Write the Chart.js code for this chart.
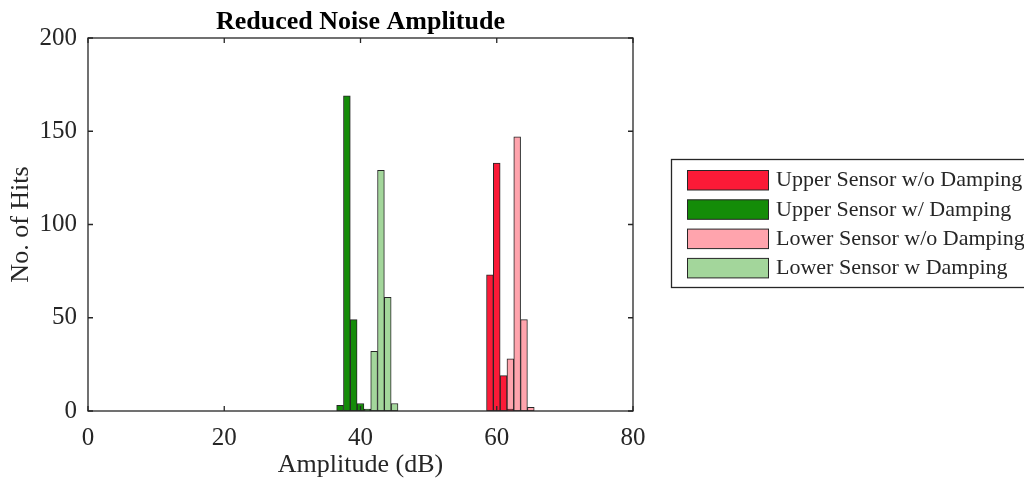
<!DOCTYPE html>
<html>
<head>
<meta charset="utf-8">
<script src="https://cdn.jsdelivr.net/npm/chart.js@4.4.1/dist/chart.umd.min.js"></script>
<style>
html, body { margin: 0; padding: 0; background: #fff; }
#wrap { width: 1024px; height: 481px; }
</style>
</head>
<body>
<div id="wrap"><canvas id="ampChart" width="1024" height="481"></canvas></div>
<script>
// histogram bins (dB) and hit counts for each sensor
var upperNoDampBins = [59, 60, 61, 62];
var upperNoDampHits = [73, 133, 19, 1];
var upperDampBins = [37, 38, 39, 40, 41];
var upperDampHits = [3, 169, 49, 4, 1];
var lowerNoDampBins = [62, 63, 64, 65];
var lowerNoDampHits = [28, 147, 49, 2];
var lowerDampBins = [42, 43, 44, 45];
var lowerDampHits = [32, 129, 61, 4];

var seriesNames = ['Upper Sensor w/o Damping', 'Upper Sensor w/ Damping', 'Lower Sensor w/o Damping', 'Lower Sensor w Damping'];
var seriesColors = ['#fb1a37', '#148c08', '#ffa4ad', '#a3d69b'];

var xTicks = [0, 20, 40, 60, 80];
var yTicks = [0, 50, 100, 150, 200];

var ink = '#262626';
var serif = "'Liberation Serif', 'Times New Roman', serif";

function toPoints(bins, hits) {
	var out = [];
	for (var i = 0; i < bins.length; i++) {
		out.push({ x: bins[i], y: hits[i] });
	}
	return out;
}

var binSets = [upperNoDampBins, upperDampBins, lowerNoDampBins, lowerDampBins];
var hitSets = [upperNoDampHits, upperDampHits, lowerNoDampHits, lowerDampHits];

var datasets = [];
for (var s = 0; s < seriesNames.length; s++) {
	datasets.push({
		label: seriesNames[s],
		data: toPoints(binSets[s], hitSets[s]),
		backgroundColor: seriesColors[s],
		borderColor: ink,
		borderWidth: 1,
		borderSkipped: false,
		barPercentage: 1,
		categoryPercentage: 1,
		grouped: false
	});
}

// axes box, inward tick marks and the legend panel
var frameAndLegend = {
	id: 'frameAndLegend',
	afterDatasetsDraw: function (chart) {
		var ctx = chart.ctx;
		var a = chart.chartArea;
		var xs = chart.scales.x, ys = chart.scales.y;
		ctx.save();
		ctx.strokeStyle = ink;
		ctx.lineWidth = 1.3;
		ctx.strokeRect(a.left, a.top, a.right - a.left, a.bottom - a.top);
		ctx.beginPath();
		xTicks.forEach(function (t) {
			var px = xs.getPixelForValue(t);
			ctx.moveTo(px, a.bottom); ctx.lineTo(px, a.bottom - 5);
			ctx.moveTo(px, a.top); ctx.lineTo(px, a.top + 5);
		});
		yTicks.forEach(function (t) {
			var py = ys.getPixelForValue(t);
			ctx.moveTo(a.left, py); ctx.lineTo(a.left + 5, py);
			ctx.moveTo(a.right, py); ctx.lineTo(a.right - 5, py);
		});
		ctx.stroke();

		// legend
		var lx = 671.5, ly = 159.5, rowH = 29.3;
		ctx.fillStyle = '#fff';
		ctx.fillRect(lx, ly, 400, 128);
		ctx.lineWidth = 1.3;
		ctx.strokeRect(lx, ly, 400, 128);
		ctx.font = '22px ' + serif;
		ctx.textBaseline = 'middle';
		ctx.textAlign = 'left';
		chart.data.datasets.forEach(function (ds, i) {
			var y = 170.5 + i * rowH;
			ctx.fillStyle = ds.backgroundColor;
			ctx.fillRect(687.5, y, 81, 19.5);
			ctx.lineWidth = 1;
			ctx.strokeStyle = ink;
			ctx.strokeRect(687.5, y, 81, 19.5);
			ctx.fillStyle = ink;
			ctx.fillText(ds.label, 776, y + 10);
		});
		ctx.restore();
	}
};

new Chart(document.getElementById('ampChart'), {
	type: 'bar',
	data: { datasets: datasets },
	options: {
		responsive: false,
		animation: false,
		layout: { padding: { left: 0, top: 0, right: 391, bottom: 0 } },
		plugins: {
			legend: { display: false },
			tooltip: { enabled: false },
			title: {
				display: true,
				fullSize: false,
				text: 'Reduced Noise Amplitude',
				color: '#000',
				font: { family: serif, size: 26, weight: 'bold' },
				padding: { top: 6.5, bottom: 0.3 }
			}
		},
		scales: {
			x: {
				type: 'linear',
				min: 0,
				max: 80,
				offset: false,
				grid: { display: false, drawTicks: false },
				border: { display: false },
				afterFit: function (scale) { scale.height = 70; },
				afterBuildTicks: function (scale) {
					scale.ticks = xTicks.map(function (v) { return { value: v }; });
				},
				ticks: { color: ink, font: { family: serif, size: 25 }, padding: 12, maxRotation: 0 },
				title: {
					display: true,
					text: 'Amplitude (dB)',
					color: ink,
					font: { family: serif, size: 26 },
					padding: { top: 0, bottom: 0 }
				}
			},
			y: {
				min: 0,
				max: 200,
				grid: { display: false, drawTicks: false },
				border: { display: false },
				afterFit: function (scale) { scale.width = 88; },
				afterBuildTicks: function (scale) {
					scale.ticks = yTicks.map(function (v) { return { value: v }; });
				},
				ticks: { color: ink, font: { family: serif, size: 25 }, padding: 11 },
				title: {
					display: true,
					text: 'No. of Hits',
					color: ink,
					font: { family: serif, size: 26 },
					padding: { top: 6, bottom: 0 }
				}
			}
		}
	},
	plugins: [frameAndLegend]
});
</script>
</body>
</html>
